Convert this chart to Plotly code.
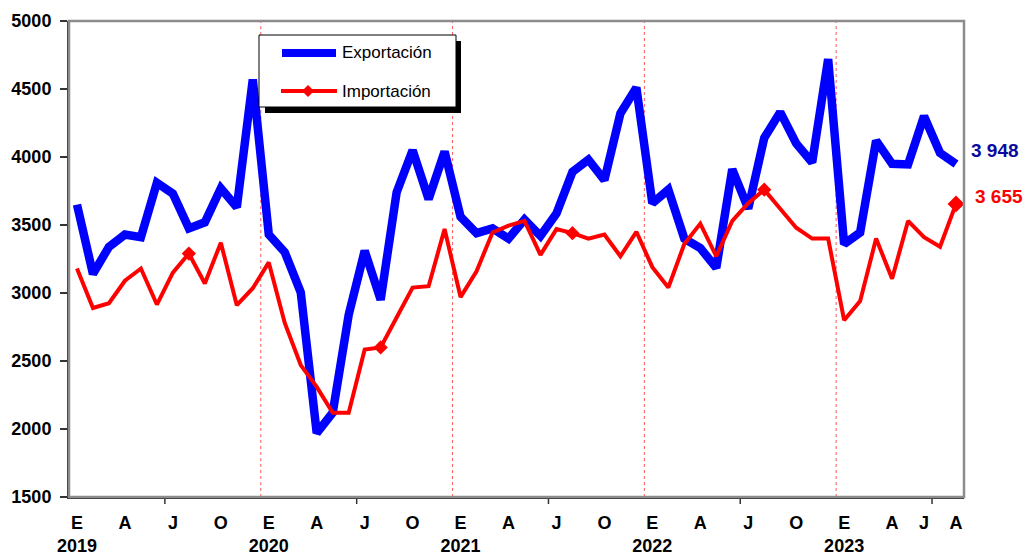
import plotly.graph_objects as go
import pandas as pd

# Monthly series, January 2019 - August 2023 (millions)
months = pd.date_range("2019-01-01", "2023-08-01", freq="MS")

exportacion = [
    3650, 3140, 3340, 3430, 3410, 3810, 3730, 3475, 3520, 3770, 3630, 4570,
    3430, 3300, 3005, 1970, 2120, 2840, 3310, 2950, 3740, 4050, 3690, 4040,
    3560, 3440, 3475, 3400, 3540, 3420, 3585, 3890, 3980, 3830, 4320, 4510,
    3660, 3760, 3400, 3330, 3185, 3910, 3620, 4140, 4330, 4100, 3960, 4720,
    3360, 3445, 4120, 3950, 3945, 4300, 4030, 3948,
]

importacion = [
    3180, 2890, 2925, 3090, 3180, 2915, 3150, 3290, 3070, 3370, 2910, 3035,
    3225, 2780, 2470, 2310, 2120, 2120, 2585, 2600, 2820, 3040, 3050, 3470,
    2970, 3160, 3445, 3495, 3530, 3280, 3470, 3440, 3400, 3430, 3270, 3450,
    3190, 3040, 3360, 3510, 3270, 3530, 3660, 3760, 3620, 3480, 3400, 3400,
    2800, 2940, 3400, 3105, 3530, 3410, 3340, 3655,
]

# August points carry a diamond marker
import_marker_size = [11 if m.month == 8 else 0 for m in months]
import_marker_size[-1] = 13

# Category-axis labels: (month, letter), year shown under each January
tick_months = ["2019-01", "2019-04", "2019-07", "2019-10",
               "2020-01", "2020-04", "2020-07", "2020-10",
               "2021-01", "2021-04", "2021-07", "2021-10",
               "2022-01", "2022-04", "2022-07", "2022-10",
               "2023-01", "2023-04", "2023-06", "2023-08"]
tick_letters = ["E", "A", "J", "O", "E", "A", "J", "O", "E", "A", "J", "O",
                "E", "A", "J", "O", "E", "A", "J", "A"]

y_ticks = [1500, 2000, 2500, 3000, 3500, 4000, 4500, 5000]

BLUE = "#0000FF"
RED = "#FF0000"
LABEL_BLUE = "#0A0AA0"
FONT = "Liberation Sans, Arial, sans-serif"

x = list(range(len(months)))
month_key = [m.strftime("%Y-%m") for m in months]
tick_pos = [month_key.index(k) for k in tick_months]
tick_text = [
    f"{lbl}<br>{months[p].year}" if months[p].month == 1 else lbl
    for p, lbl in zip(tick_pos, tick_letters)
]

W, H = 1035, 558
ML, MR, MT, MB = 69, 71, 21, 61
PW, PH = W - ML - MR, H - MT - MB


def px(xp):
    return (xp - ML) / PW


def py(yp):
    return (H - MB - yp) / PH


fig = go.Figure()

fig.add_trace(go.Scatter(
    x=x, y=exportacion, mode="lines", name="Exportación",
    line=dict(color=BLUE, width=8.5), showlegend=False, hoverinfo="x+y",
))
fig.add_trace(go.Scatter(
    x=x, y=importacion, mode="lines+markers", name="Importación",
    line=dict(color=RED, width=4),
    marker=dict(symbol="diamond", size=import_marker_size, color=RED,
                opacity=1, line=dict(width=0)),
    showlegend=False, hoverinfo="x+y",
))

shapes = []
# Year separators (between December and January)
for i, m in enumerate(months):
    if m.month == 1 and i > 0:
        shapes.append(dict(type="line", xref="x", yref="paper",
                           x0=i - 0.5, x1=i - 0.5, y0=0, y1=1, layer="below",
                           line=dict(color="#FF5A5A", width=1, dash="dot")))
# Bottom-axis tick marks (between June and July)
for i, m in enumerate(months):
    if m.month == 7:
        shapes.append(dict(type="line", xref="x", yref="paper",
                           x0=i - 0.5, x1=i - 0.5, y0=0, y1=-7 / PH,
                           line=dict(color="#333333", width=1.5)))
# Plot frame
shapes.append(dict(type="rect", xref="paper", yref="paper", x0=0, x1=1,
                   y0=0, y1=1, line=dict(color="#8C8C8C", width=2.5)))

# Legend box with drop shadow
shapes.append(dict(type="rect", xref="paper", yref="paper",
                   x0=px(265), x1=px(461), y0=py(113), y1=py(41),
                   fillcolor="black", line=dict(width=0)))
shapes.append(dict(type="rect", xref="paper", yref="paper",
                   x0=px(259), x1=px(456), y0=py(107), y1=py(35),
                   fillcolor="white", line=dict(color="black", width=1)))
shapes.append(dict(type="line", xref="paper", yref="paper",
                   x0=px(282), x1=px(336), y0=py(53), y1=py(53),
                   line=dict(color=BLUE, width=8)))
shapes.append(dict(type="line", xref="paper", yref="paper",
                   x0=px(281), x1=px(337), y0=py(91), y1=py(91),
                   line=dict(color=RED, width=4)))
shapes.append(dict(type="path", xref="paper", yref="paper",
                   xsizemode="pixel", ysizemode="pixel",
                   xanchor=px(308), yanchor=py(91),
                   path="M -6 0 L 0 6 L 6 0 L 0 -6 Z",
                   fillcolor=RED, line=dict(width=0)))

annotations = [
    dict(xref="paper", yref="paper", x=px(340), y=py(53), text="Exportación",
         showarrow=False, xanchor="left", yanchor="middle",
         font=dict(family=FONT, size=17, color="black")),
    dict(xref="paper", yref="paper", x=px(340), y=py(91), text="Importación",
         showarrow=False, xanchor="left", yanchor="middle",
         font=dict(family=FONT, size=17, color="black")),
    dict(x=x[-1], y=exportacion[-1],
         text=f"{exportacion[-1]:,}".replace(",", " "),
         showarrow=False, xanchor="left", yanchor="middle",
         xshift=13, yshift=14,
         font=dict(family=FONT, size=19, color=LABEL_BLUE, weight="bold")),
    dict(x=x[-1], y=importacion[-1],
         text=f"{importacion[-1]:,}".replace(",", " "),
         showarrow=False, xanchor="left", yanchor="middle",
         xshift=17, yshift=7,
         font=dict(family=FONT, size=19, color=RED, weight="bold")),
]

fig.update_layout(
    width=W, height=H,
    margin=dict(l=ML, r=MR, t=MT, b=MB),
    paper_bgcolor="white", plot_bgcolor="white",
    showlegend=False,
    font=dict(family=FONT, size=18, color="black"),
    shapes=shapes, annotations=annotations,
    xaxis=dict(
        range=[-0.5, len(months) - 0.5],
        tickmode="array", tickvals=tick_pos, ticktext=tick_text,
        ticks="", showgrid=False, zeroline=False, automargin=False,
        showline=True, linecolor="#333333", linewidth=2,
        tickfont=dict(family=FONT, size=18, color="black", weight="bold"),
        ticklabelstandoff=8,
    ),
    yaxis=dict(
        range=[1500, 5000], tickmode="array", tickvals=y_ticks,
        ticks="outside", ticklen=7, tickwidth=1.5, tickcolor="#333333",
        showgrid=False, zeroline=False, automargin=False,
        showline=True, linecolor="#333333", linewidth=2,
        tickfont=dict(family=FONT, size=18, color="black", weight="bold"),
        ticklabelstandoff=5,
    ),
)

fig.write_html("out.html")
